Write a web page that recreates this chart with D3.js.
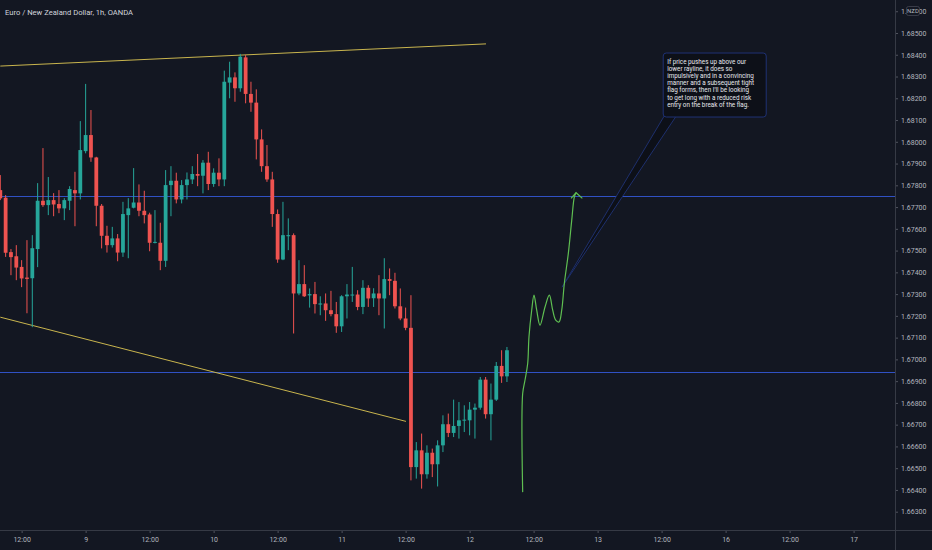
<!DOCTYPE html>
<meta charset="utf-8">
<title>Euro / New Zealand Dollar, 1h, OANDA</title>
<script src="https://d3js.org/d3.v7.min.js"></script>
<style>
  body { margin: 0; background: #131722; }
  svg { display: block; }
</style>
<body>
<svg width="932" height="550"></svg>
<script>

// hourly bars, bar 0 = 8th 08:00
var opens = [
  1.67778, 1.67743, 1.67493, 1.67474, 1.67425, 1.67376, 1.67373, 1.67507, 1.67729, 1.67709,
  1.67732, 1.67714, 1.67694, 1.67729, 1.67778, 1.67763, 1.67957, 1.68031, 1.67928, 1.67706,
  1.67568, 1.67525, 1.67556, 1.67491, 1.67663, 1.67697, 1.67721, 1.67683, 1.67666, 1.67536,
  1.67536, 1.67453, 1.67801, 1.67821, 1.67735, 1.67801, 1.67827, 1.67852, 1.67844, 1.67904,
  1.67806, 1.67858, 1.67827, 1.68272, 1.68296, 1.68246, 1.68388, 1.68220, 1.68180, 1.68011,
  1.67888, 1.67827, 1.67668, 1.67459, 1.67566, 1.67571, 1.67303, 1.67346, 1.67294, 1.67300,
  1.67252, 1.67257, 1.67226, 1.67208, 1.67152, 1.67290, 1.67294, 1.67298, 1.67241, 1.67329,
  1.67281, 1.67303, 1.67280, 1.67369, 1.67361, 1.67244, 1.67188, 1.67145, 1.66505, 1.66582,
  1.66472, 1.66571, 1.66518, 1.66605, 1.66702, 1.66662, 1.66694, 1.66720, 1.66720, 1.66769,
  1.66778, 1.66907, 1.66748, 1.66815, 1.66970, 1.66922
];
var highs = [
  1.67847, 1.67755, 1.67507, 1.67525, 1.67456, 1.67548, 1.67571, 1.67810, 1.67971, 1.67838,
  1.67764, 1.67778, 1.67741, 1.67796, 1.67862, 1.68095, 1.68266, 1.68146, 1.67931, 1.67714,
  1.67614, 1.67609, 1.67576, 1.67724, 1.67741, 1.67879, 1.67804, 1.67775, 1.67674, 1.67686,
  1.67628, 1.67870, 1.67888, 1.67858, 1.67824, 1.67859, 1.67888, 1.67944, 1.67916, 1.67954,
  1.67878, 1.67924, 1.68327, 1.68368, 1.68319, 1.68404, 1.68399, 1.68276, 1.68241, 1.68057,
  1.67985, 1.67862, 1.67689, 1.67724, 1.67648, 1.67579, 1.67456, 1.67433, 1.67326, 1.67356,
  1.67290, 1.67303, 1.67315, 1.67264, 1.67295, 1.67346, 1.67425, 1.67318, 1.67364, 1.67341,
  1.67327, 1.67387, 1.67465, 1.67418, 1.67398, 1.67326, 1.67238, 1.67295, 1.66620, 1.66659,
  1.66605, 1.66590, 1.66628, 1.66743, 1.66751, 1.66815, 1.66804, 1.66789, 1.66804, 1.66797,
  1.66919, 1.66919, 1.66889, 1.66988, 1.67042, 1.67057
];
var lows = [
  1.67732, 1.67471, 1.67387, 1.67364, 1.67332, 1.67212, 1.67148, 1.67424, 1.67701, 1.67663,
  1.67658, 1.67672, 1.67640, 1.67686, 1.67612, 1.67735, 1.67947, 1.67908, 1.67612, 1.67510,
  1.67491, 1.67514, 1.67451, 1.67471, 1.67465, 1.67694, 1.67658, 1.67625, 1.67497, 1.67533,
  1.67410, 1.67425, 1.67658, 1.67717, 1.67717, 1.67735, 1.67806, 1.67796, 1.67763, 1.67778,
  1.67793, 1.67796, 1.67796, 1.68200, 1.68184, 1.68230, 1.68177, 1.68138, 1.67919, 1.67862,
  1.67816, 1.67609, 1.67444, 1.67456, 1.67502, 1.67119, 1.67295, 1.67287, 1.67238, 1.67211,
  1.67203, 1.67177, 1.67198, 1.67122, 1.67126, 1.67188, 1.67264, 1.67226, 1.67208, 1.67241,
  1.67241, 1.67203, 1.67142, 1.67295, 1.67234, 1.67180, 1.67134, 1.66444, 1.66452, 1.66406,
  1.66452, 1.66459, 1.66416, 1.66574, 1.66643, 1.66643, 1.66636, 1.66666, 1.66651, 1.66636,
  1.66769, 1.66728, 1.66628, 1.66809, 1.66892, 1.66896
];
var closes = [
  1.67740, 1.67490, 1.67470, 1.67422, 1.67372, 1.67370, 1.67511, 1.67729, 1.67709, 1.67732,
  1.67712, 1.67694, 1.67732, 1.67783, 1.67763, 1.67962, 1.68031, 1.67928, 1.67706, 1.67568,
  1.67525, 1.67556, 1.67491, 1.67668, 1.67694, 1.67721, 1.67683, 1.67663, 1.67536, 1.67540,
  1.67453, 1.67801, 1.67821, 1.67735, 1.67801, 1.67827, 1.67852, 1.67844, 1.67904, 1.67806,
  1.67858, 1.67827, 1.68276, 1.68296, 1.68246, 1.68391, 1.68220, 1.68180, 1.68011, 1.67888,
  1.67827, 1.67668, 1.67459, 1.67571, 1.67571, 1.67303, 1.67346, 1.67290, 1.67300, 1.67254,
  1.67257, 1.67226, 1.67208, 1.67152, 1.67290, 1.67298, 1.67298, 1.67241, 1.67329, 1.67280,
  1.67303, 1.67280, 1.67369, 1.67361, 1.67244, 1.67188, 1.67145, 1.66505, 1.66582, 1.66472,
  1.66571, 1.66518, 1.66605, 1.66702, 1.66662, 1.66694, 1.66720, 1.66723, 1.66769, 1.66778,
  1.66907, 1.66748, 1.66815, 1.66970, 1.66922, 1.67042
];

// axis ticks
var priceTicks = [1.663, 1.664, 1.665, 1.666, 1.667, 1.668, 1.669, 1.670, 1.671, 1.672, 1.673, 1.674,
  1.675, 1.676, 1.677, 1.678, 1.679, 1.680, 1.681, 1.682, 1.683, 1.684, 1.685, 1.686];
var timeTickBars = [4, 16, 28, 40, 52, 64, 76, 88, 100, 112, 124, 136, 148, 160];
var timeTickLabels = ["12:00", "9", "12:00", "10", "12:00", "11", "12:00", "12", "12:00", "13", "12:00", "16", "12:00", "17"];

// drawings: [bar, price]
var upperTrend = [[0, 1.68348], [91.07, 1.68450]];
var lowerTrend = [[0, 1.67194], [76.07, 1.66715]];
var levels = [1.67752, 1.66942];
var projection = [
  [97.95, 1.66390], [97.95, 1.66843], [98.38, 1.66904], [98.89, 1.66981], [99.13, 1.67103],
  [99.64, 1.67226], [100.07, 1.67295], [100.58, 1.67226], [101.2, 1.67157], [102.14, 1.67241],
  [102.95, 1.67295], [103.58, 1.67226], [104.15, 1.67180], [104.76, 1.67172], [105.27, 1.67226],
  [105.76, 1.67349], [106.51, 1.67487], [107.15, 1.67640], [107.64, 1.67747], [107.96, 1.67766]
];
var arrowHead = [[107.02, 1.67740], [107.96, 1.67766], [109.14, 1.67740]];
var calloutTip = [105.33, 1.67332];
var calloutCorner = [124.3, 1.68408];
var calloutLines = [
  "If price pushes up above our",
  "lower rayline, it does so",
  "impulsively and in a convincing",
  "manner and a subsequent tight",
  "flag forms, then I'll be looking",
  "to get long with a reduced risk",
  "entry on the break of the flag."
];

var svg = d3.select("svg"),
    plotW = 895,
    plotH = 530;

var bars = opens.map(function(o, i) {
  return {i: i, open: o, high: highs[i], low: lows[i], close: closes[i]};
});

var x = d3.scaleLinear().domain([0, 160]).range([0.3, 853.6]);
var y = d3.scaleLinear().domain([1.663, 1.685]).range([511.7, 33]);

var upColor = "#26a69a", downColor = "#ef5350";

svg.append("rect")
    .attr("width", 932).attr("height", 550)
    .attr("fill", "#131722");

svg.append("clipPath").attr("id", "plot")
  .append("rect").attr("width", plotW).attr("height", plotH);

var g = svg.append("g").attr("clip-path", "url(#plot)");

// horizontal levels
g.selectAll(".level")
  .data(levels)
  .enter().append("line")
    .attr("class", "level")
    .attr("x1", 0).attr("x2", plotW)
    .attr("y1", function(d) { return Math.round(y(d)) + 0.5; })
    .attr("y2", function(d) { return Math.round(y(d)) + 0.5; })
    .attr("stroke", "#3051c4")
    .attr("stroke-width", 1);

// trend lines
var line = d3.line()
    .x(function(d) { return x(d[0]); })
    .y(function(d) { return y(d[1]); });

g.selectAll(".trend")
  .data([upperTrend, lowerTrend])
  .enter().append("path")
    .attr("class", "trend")
    .attr("d", line)
    .attr("fill", "none")
    .attr("stroke", "#c9b54e")
    .attr("stroke-width", 1);

// candles
var candle = g.selectAll(".candle")
  .data(bars)
  .enter().append("g")
    .attr("class", "candle")
    .attr("fill", function(d) { return d.close >= d.open ? upColor : downColor; })
    .attr("stroke", function(d) { return d.close >= d.open ? upColor : downColor; });

candle.append("line")
    .attr("x1", function(d) { return x(d.i); })
    .attr("x2", function(d) { return x(d.i); })
    .attr("y1", function(d) { return y(d.high); })
    .attr("y2", function(d) { return y(d.low); })
    .attr("stroke-width", 1);

candle.append("rect")
    .attr("x", function(d) { return x(d.i) - 1.9; })
    .attr("width", 3.8)
    .attr("y", function(d) { return y(Math.max(d.open, d.close)); })
    .attr("height", function(d) { return Math.max(1, Math.abs(y(d.open) - y(d.close))); })
    .attr("stroke", "none");

// callout
var tipX = x(calloutTip[0]), tipY = y(calloutTip[1]);
var boxX = x(calloutCorner[0]), boxY = y(calloutCorner[1]);
var boxW = 103, boxH = 64;

g.append("path")
    .attr("d", "M" + (boxX + 1) + "," + (boxY + boxH - 1) +
               "L" + tipX + "," + tipY +
               "L" + (boxX + 13) + "," + (boxY + boxH - 1) + "Z")
    .attr("fill", "#0d1018")
    .attr("stroke", "#1f3275")
    .attr("stroke-width", 0.9);

g.append("rect")
    .attr("x", boxX).attr("y", boxY)
    .attr("width", boxW).attr("height", boxH)
    .attr("rx", 3)
    .attr("fill", "#0d1018")
    .attr("stroke", "#1f3275")
    .attr("stroke-width", 1);

g.append("text")
    .attr("x", boxX + 4)
    .attr("y", boxY + 11)
    .attr("fill", "#e6e8ee")
    .style("font-family", "Roboto, sans-serif")
    .style("font-size", "6.3px")
  .selectAll("tspan")
  .data(calloutLines)
  .enter().append("tspan")
    .attr("x", boxX + 4)
    .attr("dy", function(d, i) { return i ? 7.1 : 0; })
    .text(function(d) { return d; });

// projected path
g.append("path")
    .datum(projection)
    .attr("d", line.curve(d3.curveCatmullRom.alpha(0.5)))
    .attr("fill", "none")
    .attr("stroke", "#5fbf52")
    .attr("stroke-width", 1.2);

g.append("path")
    .datum(arrowHead)
    .attr("d", line.curve(d3.curveLinear))
    .attr("fill", "none")
    .attr("stroke", "#5fbf52")
    .attr("stroke-width", 1.2);

// price axis
var yAxis = d3.axisRight(y)
    .tickValues(priceTicks)
    .tickSize(3)
    .tickPadding(3)
    .tickFormat(d3.format(".5f"));

var ya = svg.append("g")
    .attr("transform", "translate(" + plotW + ",0)")
    .call(yAxis);
ya.select(".domain").remove();
ya.selectAll(".tick line").attr("stroke", "#50535e");
ya.selectAll(".tick text")
    .attr("fill", "#b2b5be")
    .style("font-family", "Roboto, sans-serif")
    .style("font-size", "7px");

// time axis
var xAxis = d3.axisBottom(x)
    .tickValues(timeTickBars)
    .tickSize(3)
    .tickPadding(4)
    .tickFormat(function(d, i) { return timeTickLabels[i]; });

var xa = svg.append("g")
    .attr("transform", "translate(0," + plotH + ")")
    .call(xAxis);
xa.select(".domain").remove();
xa.selectAll(".tick line").attr("stroke", "#50535e");
xa.selectAll(".tick text")
    .attr("fill", "#b2b5be")
    .style("font-family", "Roboto, sans-serif")
    .style("font-size", "7px");

// axis borders
svg.append("line")
    .attr("x1", plotW + 0.5).attr("x2", plotW + 0.5)
    .attr("y1", 0).attr("y2", 550)
    .attr("stroke", "#363a45");
svg.append("line")
    .attr("x1", 0).attr("x2", 932)
    .attr("y1", plotH + 0.5).attr("y2", plotH + 0.5)
    .attr("stroke", "#363a45");

// currency badge
svg.append("rect")
    .attr("x", 906.5).attr("y", 6.5)
    .attr("width", 13).attr("height", 9)
    .attr("rx", 2)
    .attr("fill", "#131722")
    .attr("stroke", "#4a4e59")
    .attr("stroke-width", 0.7);
svg.append("text")
    .attr("x", 913).attr("y", 13.3)
    .attr("text-anchor", "middle")
    .attr("fill", "#b2b5be")
    .style("font-family", "Roboto, sans-serif")
    .style("font-size", "6px")
    .text("NZD");

// title
svg.append("text")
    .attr("x", 5).attr("y", 15)
    .attr("fill", "#d1d4dc")
    .style("font-family", "Roboto, sans-serif")
    .style("font-size", "7.6px")
    .text("Euro / New Zealand Dollar, 1h, OANDA");

</script>
</body>
